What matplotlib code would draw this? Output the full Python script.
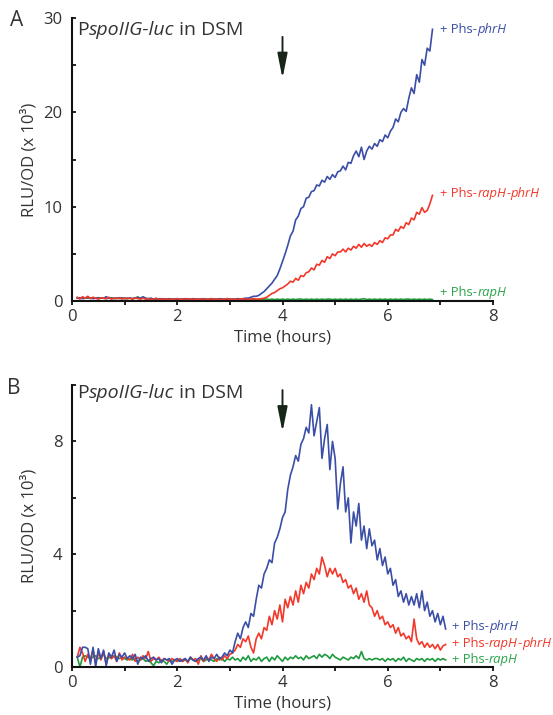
import numpy as np
import matplotlib
matplotlib.use("Agg")
import matplotlib.pyplot as plt
from matplotlib.offsetbox import TextArea, HPacker, AnnotationBbox

plt.rcParams['font.family'] = ['Open Sans', 'DejaVu Sans']

# ---- panel A data (RLU/OD x 10^3), sampled every 0.05 h from 0.10 to 6.85 h
time_a = np.round(np.linspace(0.10, 6.85, 136), 2)

phrH_a = [
    0.3, 0.35, 0.25, 0.3, 0.4, 0.3, 0.25, 0.3, 0.35, 0.3, 0.3, 0.45, 0.3, 0.25, 0.3, 0.3, 0.35, 0.3, 0.25, 0.3,
    0.3, 0.25, 0.3, 0.35, 0.3, 0.45, 0.3, 0.25, 0.3, 0.2, 0.25, 0.2, 0.25, 0.2, 0.2, 0.25, 0.2, 0.2, 0.25, 0.2,
    0.2, 0.25, 0.2, 0.2, 0.25, 0.2, 0.2, 0.2, 0.25, 0.2, 0.2, 0.25, 0.2, 0.2, 0.25, 0.2, 0.2, 0.25, 0.2, 0.2,
    0.2, 0.25, 0.2, 0.25, 0.3, 0.3, 0.4, 0.5, 0.5, 0.6, 0.8, 1.0, 1.3, 1.6, 1.9, 2.3, 2.7, 3.4, 4.2, 5.0,
    5.9, 6.9, 7.4, 8.6, 9.0, 9.8, 10.0, 10.9, 11.0, 11.6, 11.7, 12.3, 12.2, 12.8, 12.6, 13.2, 12.9, 13.4, 13.1, 13.7,
    13.8, 14.3, 13.9, 14.7, 14.6, 15.4, 15.9, 15.3, 16.3, 15.0, 15.9, 16.4, 16.1, 16.7, 16.4, 17.1, 16.9, 17.6, 17.3, 18.0,
    18.4, 19.3, 19.0, 20.0, 20.4, 20.1, 21.5, 22.6, 22.0, 24.0, 23.2, 25.6, 25.0, 26.8, 26.5, 28.8,
]
rapH_phrH_a = [
    0.4, 0.2, 0.45, 0.3, 0.5, 0.25, 0.4, 0.3, 0.2, 0.35, 0.3, 0.25, 0.4, 0.2, 0.3, 0.25, 0.35, 0.2, 0.3, 0.25,
    0.3, 0.2, 0.35, 0.25, 0.2, 0.3, 0.2, 0.25, 0.15, 0.2, 0.3, 0.15, 0.2, 0.25, 0.15, 0.2, 0.2, 0.15, 0.25, 0.2,
    0.15, 0.2, 0.25, 0.15, 0.2, 0.2, 0.15, 0.25, 0.2, 0.15, 0.2, 0.25, 0.15, 0.2, 0.2, 0.15, 0.2, 0.25, 0.15, 0.2,
    0.2, 0.15, 0.2, 0.25, 0.15, 0.2, 0.2, 0.25, 0.2, 0.2, 0.25, 0.3, 0.4, 0.6, 0.8, 0.9, 1.1, 1.3, 1.4, 1.6,
    1.8, 2.1, 2.0, 2.4, 2.2, 2.7, 2.6, 3.0, 3.1, 3.5, 3.3, 3.9, 3.8, 4.3, 4.1, 4.7, 4.5, 5.0, 4.8, 5.2,
    5.2, 5.5, 5.2, 5.6, 5.4, 5.8, 5.6, 6.0, 5.7, 6.1, 5.8, 6.0, 5.8, 6.2, 6.0, 6.4, 6.2, 6.7, 6.6, 7.0,
    7.0, 7.6, 7.4, 7.9, 7.7, 8.3, 8.1, 8.8, 8.6, 9.4, 9.2, 9.9, 9.4, 9.6, 10.3, 11.2,
]
rapH_a = [
    0.3, 0.35, 0.3, 0.35, 0.3, 0.3, 0.35, 0.3, 0.25, 0.3, 0.3, 0.25, 0.3, 0.35, 0.25, 0.3, 0.25, 0.3, 0.3, 0.25,
    0.3, 0.25, 0.3, 0.45, 0.25, 0.3, 0.25, 0.2, 0.25, 0.2, 0.2, 0.25, 0.2, 0.15, 0.2, 0.2, 0.15, 0.2, 0.2, 0.15,
    0.2, 0.15, 0.2, 0.15, 0.2, 0.15, 0.2, 0.15, 0.2, 0.15, 0.2, 0.15, 0.2, 0.15, 0.2, 0.2, 0.15, 0.2, 0.15, 0.2,
    0.15, 0.2, 0.15, 0.2, 0.15, 0.2, 0.15, 0.2, 0.15, 0.2, 0.15, 0.2, 0.2, 0.15, 0.2, 0.15, 0.2, 0.15, 0.2, 0.15,
    0.2, 0.15, 0.2, 0.15, 0.2, 0.2, 0.15, 0.2, 0.15, 0.2, 0.15, 0.2, 0.15, 0.2, 0.15, 0.2, 0.2, 0.15, 0.2, 0.15,
    0.2, 0.15, 0.2, 0.15, 0.2, 0.15, 0.2, 0.15, 0.2, 0.25, 0.15, 0.2, 0.15, 0.2, 0.15, 0.2, 0.15, 0.2, 0.15, 0.2,
    0.15, 0.2, 0.15, 0.2, 0.15, 0.2, 0.2, 0.15, 0.2, 0.15, 0.2, 0.15, 0.2, 0.15, 0.2, 0.15,
]

# ---- panel B data, sampled every 0.05 h from 0.10 to 7.10 h
time_b = np.round(np.linspace(0.10, 7.10, 141), 2)

phrH_b = [
    0.35, 0.4, 0.7, 0.7, 0.65, 0.1, 0.7, 0.0, 0.65, 0.3, 0.6, 0.05, 0.5, 0.35, 0.6, 0.2, 0.45, 0.35, 0.5, 0.3,
    0.4, 0.3, 0.45, 0.1, 0.35, 0.3, 0.4, 0.2, 0.3, 0.35, 0.25, 0.3, 0.15, 0.3, 0.25, 0.3, 0.1, 0.25, 0.3, 0.2,
    0.25, 0.3, 0.2, 0.35, 0.25, 0.2, 0.3, 0.35, 0.25, 0.4, 0.2, 0.35, 0.3, 0.45, 0.3, 0.35, 0.5, 0.4, 0.6, 0.5,
    0.9, 1.2, 1.0, 1.4, 1.6, 1.4, 1.9, 1.8, 2.4, 2.9, 2.8, 3.3, 3.5, 3.8, 3.7, 4.4, 4.6, 4.9, 5.3, 5.5,
    6.3, 6.8, 7.1, 7.5, 7.3, 7.9, 8.1, 8.5, 8.3, 9.3, 8.2, 8.7, 9.2, 7.4, 8.1, 8.6, 7.0, 8.0, 7.4, 5.6,
    6.5, 7.1, 5.5, 6.0, 4.4, 5.5, 5.0, 5.8, 4.5, 5.0, 4.2, 4.9, 4.3, 4.5, 3.8, 4.2, 3.6, 3.9, 3.3, 3.5,
    2.9, 3.1, 2.5, 2.7, 2.3, 2.6, 2.2, 2.5, 2.2, 2.6, 2.1, 2.7, 2.0, 2.3, 1.8, 2.0, 1.6, 1.9, 1.5, 1.8,
    1.35,
]
rapH_phrH_b = [
    0.35, 0.7, 0.5, 0.2, 0.45, 0.3, 0.6, 0.15, 0.5, 0.25, 0.55, 0.1, 0.45, 0.3, 0.4, 0.2, 0.5, 0.25, 0.35, 0.3,
    0.25, 0.45, 0.2, 0.35, 0.25, 0.4, 0.3, 0.55, 0.2, 0.3, 0.25, 0.35, 0.2, 0.3, 0.25, 0.2, 0.3, 0.25, 0.2, 0.3,
    0.2, 0.3, 0.15, 0.35, 0.25, 0.3, 0.1, 0.4, 0.2, 0.35, 0.25, 0.45, 0.3, 0.2, 0.35, 0.25, 0.4, 0.3, 0.45, 0.5,
    0.6, 0.8, 0.7, 1.0, 0.9, 1.1, 0.7, 0.5, 1.0, 1.2, 1.0, 1.4, 1.3, 1.8, 1.5, 2.0, 1.7, 2.2, 1.6, 2.4,
    2.1, 2.5, 2.2, 2.7, 2.3, 2.9, 2.6, 3.0, 2.8, 3.3, 3.1, 3.5, 3.3, 3.9, 3.6, 3.2, 3.5, 3.3, 3.5, 3.2,
    3.3, 3.0, 3.1, 2.8, 2.9, 2.6, 2.8, 2.4, 2.6, 2.3, 2.7, 2.2, 2.1, 1.8, 2.0, 1.7, 1.8, 1.5, 1.6, 1.4,
    1.5, 1.2, 1.4, 1.1, 1.2, 1.0, 1.1, 0.9, 1.7, 1.0, 0.8, 0.9, 0.7, 0.85, 0.7, 0.8, 0.65, 0.8, 0.6, 0.75,
    0.8,
]
rapH_b = [
    0.35, 0.0, 0.35, 0.4, 0.35, 0.3, 0.35, 0.4, 0.3, 0.35, 0.45, 0.3, 0.35, 0.3, 0.4, 0.35, 0.3, 0.35, 0.3, 0.25,
    0.3, 0.25, 0.3, 0.2, 0.25, 0.3, 0.2, 0.25, 0.15, 0.05, 0.2, 0.15, 0.25, 0.2, 0.1, 0.25, 0.2, 0.25, 0.2, 0.25,
    0.2, 0.25, 0.2, 0.3, 0.25, 0.2, 0.25, 0.3, 0.2, 0.25, 0.3, 0.25, 0.2, 0.3, 0.25, 0.3, 0.2, 0.3, 0.25, 0.35,
    0.25, 0.3, 0.2, 0.35, 0.25, 0.4, 0.2, 0.3, 0.25, 0.35, 0.2, 0.3, 0.35, 0.2, 0.35, 0.25, 0.4, 0.3, 0.2, 0.35,
    0.25, 0.35, 0.3, 0.4, 0.3, 0.35, 0.25, 0.4, 0.3, 0.35, 0.4, 0.3, 0.45, 0.35, 0.45, 0.4, 0.3, 0.45, 0.35, 0.3,
    0.25, 0.35, 0.3, 0.25, 0.35, 0.3, 0.4, 0.3, 0.55, 0.3, 0.25, 0.3, 0.25, 0.3, 0.3, 0.25, 0.3, 0.2, 0.3, 0.25,
    0.3, 0.2, 0.3, 0.25, 0.35, 0.2, 0.3, 0.25, 0.2, 0.3, 0.25, 0.3, 0.2, 0.3, 0.25, 0.3, 0.2, 0.3, 0.25, 0.3,
    0.25,
]

# label pieces: (text, italic?)
labels = [
    [('+ Phs-', False), ('phrH', True)],
    [('+ Phs-', False), ('rapH', True), ('-', False), ('phrH', True)],
    [('+ Phs-', False), ('rapH', True)],
]
label_y_a = [28.8, 11.4, 0.9]
label_y_b = [1.45, 0.84, 0.27]
title = [('P', False), ('spoIIG-luc', True), (' in DSM', False)]

BLUE = '#3a4ea6'
RED = '#f2382a'
GREEN = '#1f9a3e'
LABEL_COLORS = [BLUE, RED, '#2aa44a']


def rich_text(ax, xy, pieces, color, size, coords='data'):
    areas = [TextArea(s, textprops=dict(color=color, fontsize=size,
                                        style='italic' if it else 'normal'))
             for s, it in pieces]
    box = HPacker(children=areas, pad=0, sep=0, align='baseline')
    ab = AnnotationBbox(box, xy, xycoords=coords, box_alignment=(0, 0.5),
                        frameon=False, pad=0, annotation_clip=False)
    ax.add_artist(ab)


fig = plt.figure(figsize=(5.53, 7.15), dpi=100)
ax_a = fig.add_axes([0.1302, 0.579, 0.7613, 0.3958])
ax_b = fig.add_axes([0.1302, 0.0671, 0.7613, 0.3944])


def style_axis(ax, ymax, major, minor):
    ax.set_xlim(0, 8)
    ax.set_ylim(0, ymax)
    for s in ['top', 'right']:
        ax.spines[s].set_visible(False)
    for s in ['left', 'bottom']:
        ax.spines[s].set_linewidth(1.5)
        ax.spines[s].set_color('#111111')
    ax.set_xticks([0, 2, 4, 6, 8])
    ax.set_xticks([1, 3, 5, 7], minor=True)
    ax.set_yticks(major)
    ax.set_yticks(minor, minor=True)
    ax.tick_params(axis='x', which='both', direction='out', length=3, width=1.3,
                   labelsize=12, pad=3, colors='#111111', labelcolor='#333333')
    ax.tick_params(axis='y', which='both', direction='in', length=3, width=1.3,
                   labelsize=12, pad=7, colors='#111111', labelcolor='#333333')
    ax.set_xlabel('Time (hours)', fontsize=12, color='#333333')
    ax.set_ylabel('RLU/OD (x 10³)', fontsize=12, color='#333333')
    ax.xaxis.set_label_coords(0.5, -0.128)
    ax.xaxis.label.set_va('center')
    ax.yaxis.set_label_coords(-0.102, 0.5)
    ax.yaxis.label.set_va('center')


style_axis(ax_a, 30, [0, 10, 20, 30], [5, 15, 25])
style_axis(ax_b, 10, [0, 4, 8], [2, 6, 10])

# panel A
ax_a.plot(time_a, rapH_a, color=GREEN, lw=1.2, clip_on=False)
ax_a.plot(time_a, phrH_a, color=BLUE, lw=1.2, clip_on=False)
ax_a.plot(time_a, rapH_phrH_a, color=RED, lw=1.2, clip_on=False)
for lab, y, c in zip(labels, label_y_a, LABEL_COLORS):
    rich_text(ax_a, (7.0, y), lab, c, 9.4)

# panel B
ax_b.plot(time_b, rapH_b, color=GREEN, lw=1.2, clip_on=False)
ax_b.plot(time_b, rapH_phrH_b, color=RED, lw=1.2, clip_on=False)
ax_b.plot(time_b, phrH_b, color=BLUE, lw=1.2, clip_on=False)
for lab, y, c in zip(labels, label_y_b, LABEL_COLORS):
    rich_text(ax_b, (7.22, y), lab, c, 9.4)

rich_text(ax_a, (0.012, 0.9587), title, '#333333', 14, coords='axes fraction')
rich_text(ax_b, (0.012, 0.9716), title, '#333333', 14, coords='axes fraction')

# arrows marking 4 h
arrow = dict(arrowstyle='-|>,head_length=1.0,head_width=0.2', color='#18261a',
             lw=1.4, mutation_scale=15, shrinkA=0, shrinkB=0)
ax_a.annotate('', xy=(4.0, 23.6), xytext=(4.0, 28.0), arrowprops=arrow)
ax_b.annotate('', xy=(4.0, 8.34), xytext=(4.0, 9.82), arrowprops=arrow)

fig.text(17 / 553, 1 - 21 / 715, 'A', fontsize=15, color='#333333', ha='center', va='center')
fig.text(14 / 553, 1 - 388 / 715, 'B', fontsize=15, color='#333333', ha='center', va='center')

fig.savefig('out.png', dpi=100)
